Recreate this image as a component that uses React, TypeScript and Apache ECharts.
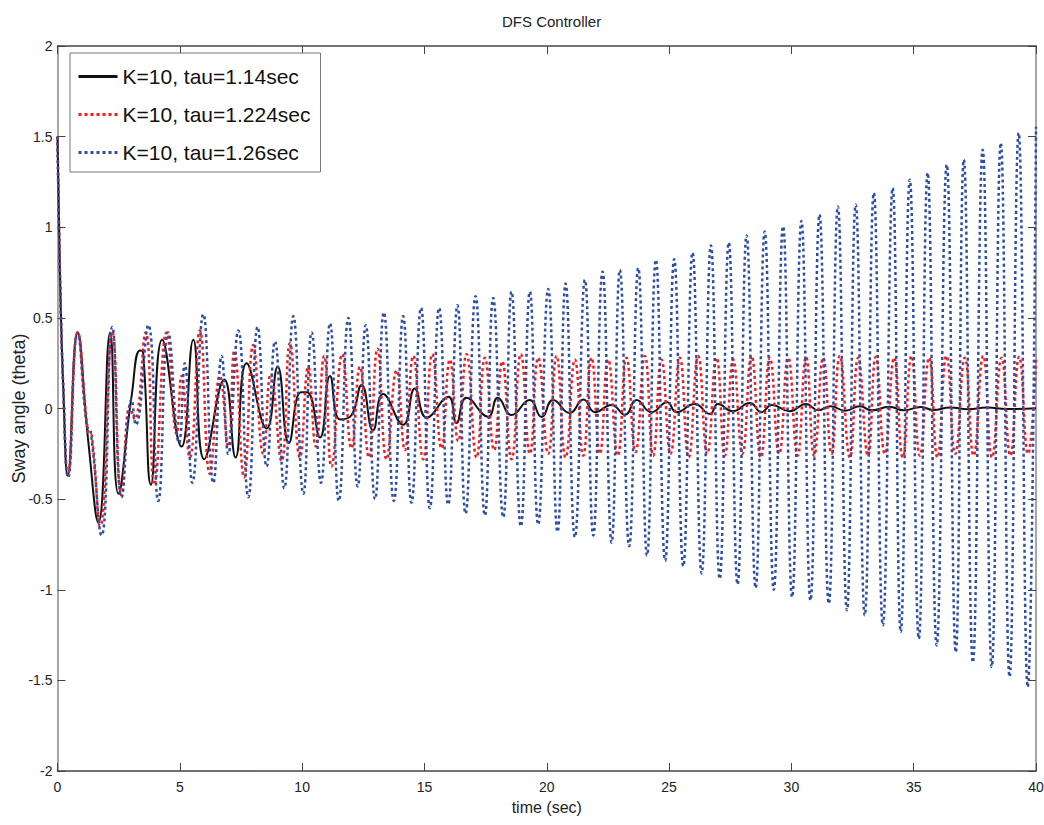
import React, { useEffect, useRef } from "react";
import * as echarts from "echarts";

const titleText = "DFS Controller";
const xName = "time (sec)";
const yName = "Sway angle (theta)";
const seriesNames = ["K=10, tau=1.14sec", "K=10, tau=1.224sec", "K=10, tau=1.26sec"];

// [time (sec), sway angle]
const blackPts: number[][] = [
  [0, 1.5], [0.1, 0.75], [0.24, 0.1], [0.42, -0.37], [0.82, 0.42], [1.25, -0.17], [1.67, -0.63],
  [2.15, 0.42], [2.49, -0.47], [3.03, 0.07], [3.37, 0.32], [3.5, 0.31], [3.82, -0.42], [4.28, 0.38],
  [5.07, -0.21], [5.55, 0.38], [6.0, -0.28], [6.82, 0.16], [7.28, -0.27], [7.73, 0.25], [8.55, -0.11],
  [9.0, 0.23], [9.46, -0.19], [9.95, 0.09], [10.2, 0.09], [10.73, -0.16], [11.14, 0.18], [11.55, -0.06],
  [12.0, -0.04], [12.43, 0.13], [12.9, -0.12], [13.31, 0.08], [14.13, -0.09], [14.61, 0.11], [15.09, -0.05],
  [15.98, 0.065], [16.31, -0.08], [16.72, 0.06], [17.6, -0.045], [18.0, 0.06], [18.56, -0.036],
  [19.3, 0.047], [19.79, -0.047], [20.26, 0.047], [20.94, -0.025], [21.5, 0.05], [21.97, -0.02],
  [22.65, 0.02], [23.2, -0.035], [23.67, 0.047], [24.28, -0.02], [24.92, 0.035], [25.3, -0.02],
  [26.05, 0.025], [26.67, -0.03], [27.0, 0.025], [27.6, -0.015], [28.3, 0.03], [28.78, -0.02],
  [29.2, 0.02], [29.93, -0.015], [30.6, 0.025], [31.1, -0.01], [31.6, 0.012], [32.2, -0.012],
  [32.8, 0.012], [33.3, -0.01], [34.0, 0.01], [34.6, -0.01], [35.3, 0.008], [35.8, -0.008],
  [36.5, 0.006], [37.2, -0.004], [38.0, 0.005], [38.8, -0.003], [40, 0.002],
];

const redPts: number[][] = [
  [0, 1.5], [0.1, 0.75], [0.24, 0.1], [0.42, -0.37], [0.82, 0.42], [1.25, -0.13], [1.4, -0.15],
  [1.74, -0.65], [2.24, 0.42], [2.62, -0.48], [2.96, 0.01], [3.15, -0.06], [3.6, 0.42], [3.96, -0.42],
  [4.46, 0.42], [4.87, -0.14], [5.07, 0.18], [5.41, -0.27], [5.82, 0.43], [6.23, -0.36], [6.64, 0.18],
  [6.98, -0.21], [7.23, 0.32], [7.63, -0.38], [8.0, 0.35], [8.41, -0.25], [8.72, 0.19], [9.16, -0.29],
  [9.5, 0.36], [9.91, -0.27], [10.25, 0.23], [10.56, -0.21], [10.9, 0.29], [11.2, -0.32], [11.64, 0.3],
  [12.02, -0.22], [12.36, 0.23], [12.73, -0.27], [13.08, 0.33], [13.45, -0.28], [13.86, 0.21],
  [14.2, -0.23], [14.54, 0.29], [14.95, -0.28], [15.32, 0.3], [15.7, -0.22], [16.04, 0.27],
  [16.38, -0.18], [16.72, 0.3], [17.13, -0.27], [17.47, 0.28], [17.85, -0.23], [18.18, 0.26],
  [18.56, -0.28], [18.94, 0.3], [19.31, -0.25], [19.65, 0.28], [20.06, -0.25], [20.4, 0.29],
  [20.77, -0.27], [21.15, 0.27], [21.49, -0.26], [21.83, 0.28], [22.17, -0.25], [22.51, 0.27],
  [22.9, -0.26], [23.26, 0.28], [23.63, -0.24], [24.01, 0.29], [24.35, -0.26], [24.69, 0.27],
  [25.06, -0.25], [25.44, 0.28], [25.8, -0.27], [26.19, 0.29], [26.56, -0.25], [26.94, 0.28],
  [27.28, -0.26], [27.62, 0.27], [28.0, -0.25], [28.37, 0.29], [28.75, -0.27], [29.12, 0.28],
  [29.5, -0.25], [29.87, 0.28], [30.25, -0.26], [30.6, 0.285], [30.93, -0.26], [31.3, 0.28],
  [31.64, -0.25], [31.98, 0.29], [32.39, -0.27], [32.73, 0.28], [33.13, -0.26], [33.45, 0.285],
  [33.82, -0.25], [34.2, 0.28], [34.55, -0.27], [34.91, 0.29], [35.25, -0.26], [35.63, 0.28],
  [35.97, -0.27], [36.34, 0.29], [36.7, -0.25], [37.09, 0.28], [37.45, -0.26], [37.84, 0.29],
  [38.2, -0.27], [38.59, 0.28], [38.95, -0.26], [39.31, 0.285], [39.67, -0.25], [40, 0.28],
];

const bluePts: number[][] = [
  [0, 1.5], [0.1, 0.75], [0.24, 0.1], [0.44, -0.38], [0.82, 0.42], [1.2, -0.1], [1.35, -0.12],
  [1.8, -0.7], [2.24, 0.45], [2.62, -0.49], [3.03, 0.05], [3.2, -0.09], [3.71, 0.46], [4.12, -0.51],
  [4.53, 0.42], [4.97, -0.19], [5.2, 0.25], [5.51, -0.41], [5.96, 0.52], [6.37, -0.41], [6.71, 0.29],
  [6.98, -0.25], [7.39, 0.43], [7.8, -0.49], [8.18, 0.45], [8.55, -0.32], [8.89, 0.37], [9.27, -0.44],
  [9.64, 0.51], [10.05, -0.47], [10.39, 0.42], [10.77, -0.41], [11.14, 0.47], [11.5, -0.51],
  [11.89, 0.5], [12.27, -0.43], [12.6, 0.46], [12.98, -0.5], [13.34, 0.53], [13.75, -0.51],
  [14.13, 0.51], [14.47, -0.52], [14.86, 0.555], [15.22, -0.55], [15.6, 0.555], [15.97, -0.53],
  [16.35, 0.57], [16.68, -0.58], [17.09, 0.62], [17.47, -0.59], [17.81, 0.61], [18.22, -0.6],
  [18.56, 0.645], [18.94, -0.65], [19.31, 0.645], [19.65, -0.64], [20.06, 0.66], [20.44, -0.68],
  [20.77, 0.69], [21.15, -0.71], [21.56, 0.71], [21.9, -0.7], [22.28, 0.755], [22.65, -0.74],
  [22.99, 0.765], [23.37, -0.76], [23.74, 0.775], [24.1, -0.81], [24.46, 0.82], [24.84, -0.84],
  [25.21, 0.824], [25.58, -0.87], [25.96, 0.86], [26.33, -0.91], [26.71, 0.9], [27.07, -0.94],
  [27.44, 0.915], [27.8, -0.97], [28.17, 0.955], [28.54, -0.99], [28.91, 0.977], [29.28, -1.0],
  [29.66, 1.005], [30.03, -1.04], [30.41, 1.035], [30.78, -1.058], [31.15, 1.07], [31.53, -1.076],
  [31.9, 1.115], [32.27, -1.113], [32.63, 1.124], [33.0, -1.141], [33.37, 1.189], [33.74, -1.196],
  [34.14, 1.217], [34.47, -1.233], [34.84, 1.262], [35.21, -1.27], [35.57, 1.3], [35.94, -1.307],
  [36.35, 1.345], [36.72, -1.344], [37.05, 1.373], [37.42, -1.4], [37.82, 1.428], [38.19, -1.426],
  [38.56, 1.465], [38.92, -1.48], [39.29, 1.52], [39.66, -1.537], [40, 1.555],
];

const xTicks = { min: 0, max: 40, interval: 5 };
const yTicks = { min: -2, max: 2, interval: 0.5 };

const FONT = "'Liberation Sans', Arial, Helvetica, sans-serif";

export default function App() {
  const ref = useRef<HTMLDivElement>(null);
  useEffect(() => {
    if (!ref.current) return;
    const chart = echarts.init(ref.current, undefined, { renderer: "svg" });
    const axisX = (pos: "bottom" | "top", showLabel: boolean) => ({
      type: "value",
      position: pos,
      min: xTicks.min,
      max: xTicks.max,
      interval: xTicks.interval,
      name: showLabel ? xName : undefined,
      nameLocation: "middle",
      nameGap: 28,
      nameTextStyle: { fontSize: 16, color: "#222", fontFamily: FONT },
      axisLine: { show: true, onZero: false, lineStyle: { color: "#444", width: 1.5 } },
      axisTick: { show: true, inside: true, length: 8, lineStyle: { color: "#444", width: 1 } },
      axisLabel: { show: showLabel, fontSize: 14, color: "#222", margin: 9, fontFamily: FONT },
      splitLine: { show: false },
    });
    const axisY = (pos: "left" | "right", showLabel: boolean) => ({
      type: "value",
      position: pos,
      min: yTicks.min,
      max: yTicks.max,
      interval: yTicks.interval,
      name: showLabel ? yName : undefined,
      nameLocation: "middle",
      nameGap: 30,
      nameMoveOverlap: false,
      nameTextStyle: { fontSize: 18, color: "#222", fontFamily: FONT },
      axisLine: { show: true, onZero: false, lineStyle: { color: "#888", width: 1.5 } },
      axisTick: { show: true, inside: true, length: 8, lineStyle: { color: "#444", width: 1 } },
      axisLabel: { show: showLabel, fontSize: 14, color: "#222", margin: 5, fontFamily: FONT },
      splitLine: { show: false },
    });
    const mk = (name: string, pts: number[][], color: string, type: any, width: number) => ({
      name,
      type: "line",
      data: pts,
      xAxisIndex: 0,
      yAxisIndex: 0,
      symbol: "none",
      smooth: 0.5,
      clip: true,
      lineStyle: { color, width, type, cap: "butt" },
      itemStyle: { color },
    });
    chart.setOption({
      animation: false,
      backgroundColor: "#fff",
      textStyle: { fontFamily: FONT },
      title: {
        text: titleText,
        left: 497,
        top: 9,
        textStyle: { fontSize: 15, fontWeight: "normal", color: "#222", fontFamily: FONT },
      },
      grid: {
        left: 57.5,
        right: 8,
        top: 46,
        bottom: 54,
        containLabel: false,
        outerBoundsMode: "none",
      },
      xAxis: [axisX("bottom", true), axisX("top", false)],
      yAxis: [axisY("left", true), axisY("right", false)],
      legend: {
        data: seriesNames,
        orient: "vertical",
        left: 70,
        top: 53,
        padding: [13, 10, 9, 7],
        itemGap: 17,
        itemWidth: 39,
        itemHeight: 14,
        backgroundColor: "#fff",
        borderColor: "#777",
        borderWidth: 1,
        borderRadius: 0,
        itemStyle: { color: "rgba(0,0,0,0)", borderWidth: 0, opacity: 0 },
        lineStyle: { width: 3 },
        textStyle: { fontSize: 21, color: "#111", fontFamily: FONT },
      },
      series: [
        mk(seriesNames[0], blackPts, "#111", "solid", 2),
        mk(seriesNames[1], redPts, "#f41c1c", [3, 3], 2.5),
        mk(seriesNames[2], bluePts, "#2e4ea6", [3, 3], 2.5),
      ],
    });
    return () => chart.dispose();
  }, []);
  return (
    <div
      ref={ref}
      style={{ position: "fixed", left: 0, top: 0, width: 1044, height: 825, background: "#fff" }}
    />
  );
}
